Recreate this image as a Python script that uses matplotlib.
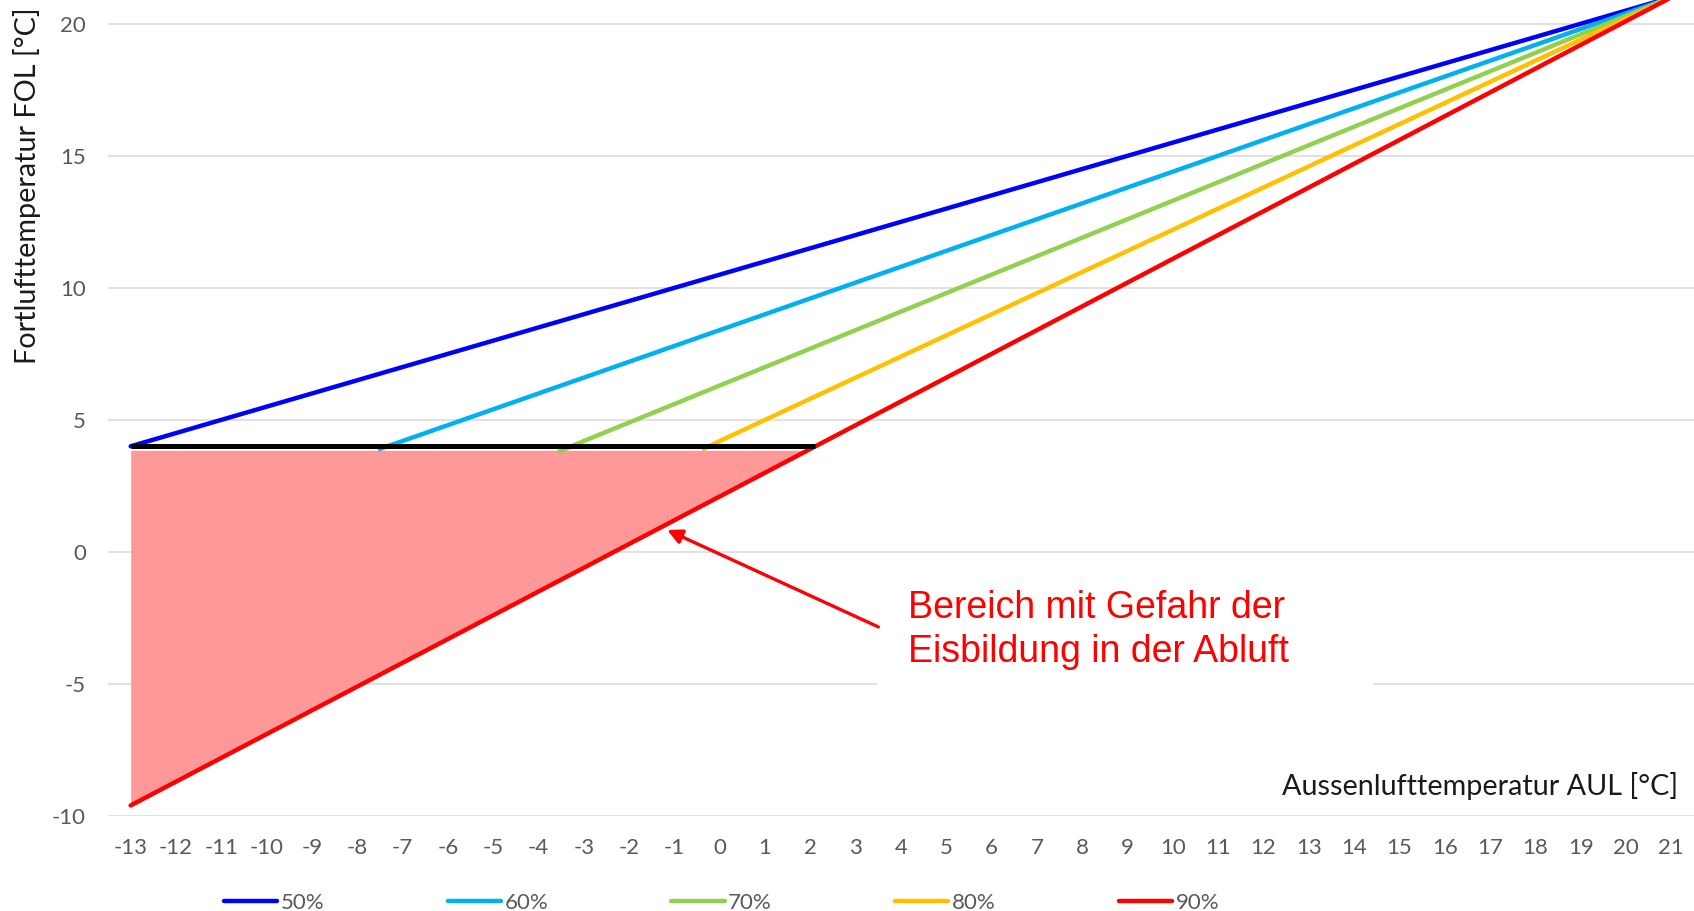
import matplotlib
matplotlib.use("Agg")
import matplotlib.pyplot as plt
from matplotlib.patches import Rectangle

plt.rcParams["font.family"] = ["Lato", "DejaVu Sans"]
plt.rcParams["axes.unicode_minus"] = False

# outdoor air temperature AUL [°C] -> exhaust air temperature FOL [°C]
x_50 = list(range(-13, 22))
y_50 = [4.0, 4.5, 5.0, 5.5, 6.0, 6.5, 7.0, 7.5, 8.0, 8.5, 9.0, 9.5, 10.0, 10.5,
        11.0, 11.5, 12.0, 12.5, 13.0, 13.5, 14.0, 14.5, 15.0, 15.5, 16.0, 16.5,
        17.0, 17.5, 18.0, 18.5, 19.0, 19.5, 20.0, 20.5, 21.0]

x_60 = [-7.5] + list(range(-7, 22))
y_60 = [3.9, 4.2, 4.8, 5.4, 6.0, 6.6, 7.2, 7.8, 8.4, 9.0, 9.6, 10.2, 10.8, 11.4,
        12.0, 12.6, 13.2, 13.8, 14.4, 15.0, 15.6, 16.2, 16.8, 17.4, 18.0, 18.6,
        19.2, 19.8, 20.4, 21.0]

x_70 = [-3.55] + list(range(-3, 22))
y_70 = [3.8, 4.2, 4.9, 5.6, 6.3, 7.0, 7.7, 8.4, 9.1, 9.8, 10.5, 11.2, 11.9, 12.6,
        13.3, 14.0, 14.7, 15.4, 16.1, 16.8, 17.5, 18.2, 18.9, 19.6, 20.3, 21.0]

x_80 = [-0.35] + list(range(0, 22))
y_80 = [3.9, 4.2, 5.0, 5.8, 6.6, 7.4, 8.2, 9.0, 9.8, 10.6, 11.4, 12.2, 13.0, 13.8,
        14.6, 15.4, 16.2, 17.0, 17.8, 18.6, 19.4, 20.2, 21.0]

x_90 = list(range(-13, 22))
y_90 = [-9.6, -8.7, -7.8, -6.9, -6.0, -5.1, -4.2, -3.3, -2.4, -1.5, -0.6, 0.3,
        1.2, 2.1, 3.0, 3.9, 4.8, 5.7, 6.6, 7.5, 8.4, 9.3, 10.2, 11.1, 12.0, 12.9,
        13.8, 14.7, 15.6, 16.5, 17.4, 18.3, 19.2, 20.1, 21.0]

series = [
    ("50%", x_50, y_50, "#0000FF"),
    ("60%", x_60, y_60, "#00B0F0"),
    ("70%", x_70, y_70, "#92D050"),
    ("80%", x_80, y_80, "#FFC000"),
    ("90%", x_90, y_90, "#FF0000"),
]

# icing limit: FOL = 4 °C between AUL -13 and the 90% curve
limit_fol = 4.0
limit_aul = (-13, 2.1)
fill_top = 3.85
n_fill = 16  # points of the 90% curve up to AUL = 2

xticks = list(range(-13, 22))
yticks = [-10, -5, 0, 5, 10, 15, 20]

grey = "#595959"

fig = plt.figure(figsize=(16.94, 9.11), dpi=100)
ax = fig.add_axes([108 / 1694, 95 / 911, 1586 / 1694, 816 / 911])

ax.set_xlim(-13.5, 21.5)
ax.set_ylim(-10, 20.9)
ax.set_xticks(xticks)
ax.set_yticks(yticks)
ax.tick_params(axis="both", length=0, labelsize=16, labelcolor=grey)
ax.tick_params(axis="x", pad=16)
ax.tick_params(axis="y", pad=16)
ax.grid(axis="y", color="#D9D9D9", linewidth=1.1)
ax.set_axisbelow(True)
for s in ax.spines.values():
    s.set_visible(False)

# white box behind the annotation breaks the grid like in the original
ax.add_patch(Rectangle((3.47, -5.6), 10.95, 5.0, facecolor="white",
                       edgecolor="none", zorder=1))

ax.fill_between(x_90[:n_fill], y_90[:n_fill], fill_top, color="#FF9999",
                linewidth=0, zorder=2)

handles = []
for label, xs, ys, color in series:
    (ln,) = ax.plot(xs, ys, color=color, linewidth=3.2, label=label,
                    solid_capstyle="round", zorder=3)
    handles.append(ln)

ax.hlines(limit_fol, limit_aul[0], limit_aul[1], color="black",
          linewidth=3.6, zorder=4)

ax.annotate("", xy=(-1.16, 0.83), xytext=(3.5, -2.84),
            arrowprops=dict(arrowstyle="-|>", color="#FF0000", lw=2.4,
                            mutation_scale=22, shrinkA=0, shrinkB=0),
            zorder=5)
ax.text(4.15, -2.95, "Bereich mit Gefahr der\nEisbildung in der Abluft",
        color="#FF0000", fontsize=27, family=["Liberation Sans", "DejaVu Sans"],
        ha="left", va="center", linespacing=1.3, zorder=5)

ax.text(21.16, -8.85, "Aussenlufttemperatur AUL [°C]", fontsize=20.7,
        color="#1a1a1a", ha="right", va="center")
fig.text(27 / 1694, 1 - 186 / 911, "Fortlufttemperatur FOL [°C]", fontsize=20.7,
         color="#1a1a1a", rotation=90, ha="center", va="center")

fig.legend(handles=handles, loc="center left",
           bbox_to_anchor=(224 / 1694, 1 - 903 / 911), ncol=5, frameon=False,
           fontsize=16, labelcolor=grey, handlelength=2.4, handletextpad=0.15,
           columnspacing=5.55, borderpad=0, borderaxespad=0)

fig.savefig("out.png", dpi=100)
